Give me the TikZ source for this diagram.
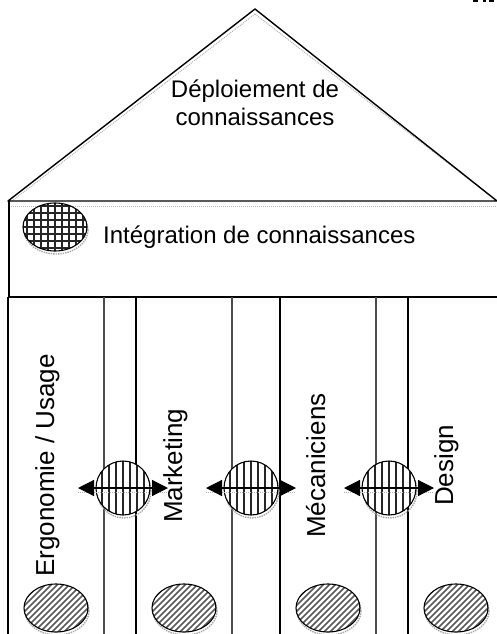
\documentclass[tikz,border=0pt]{standalone}
\usepackage{fontspec}
\setmainfont{Liberation Sans}
\tikzset{
  x=1pt,y=-1pt,
  wall/.style={draw=black,line width=1.4pt},
  thin wall/.style={draw=black!70,line width=1.2pt},
  shadowline/.style={draw=black!30,line width=1pt,densely dotted},
  shadowblob/.style={ellipse,draw=black!35,line width=1.4pt,densely dotted,inner sep=0pt},
  blob/.style={ellipse,draw=black,line width=1.1pt,fill=white,inner sep=0pt,minimum width=64pt,minimum height=48pt},
  ball/.style={circle,draw=black,line width=1.1pt,fill=white,inner sep=0pt,minimum size=54pt},
  hatchline/.style={line width=1.3pt,black!85},
  diaghatch/.style={blob,path picture={
    \foreach \k in {-90,-84,...,90}
      \draw[line width=1.5pt,black!65] ([xshift=\k pt,yshift=-50pt]path picture bounding box.center) -- ++(100pt,100pt);}},
  gridhatch/.style={blob,path picture={
    \foreach \k in {-35,-28,...,35}{
      \draw[hatchline] ([xshift=\k pt,yshift=-30pt]path picture bounding box.center) -- ++(0,60pt);
      \draw[hatchline] ([xshift=-40pt,yshift=\k pt]path picture bounding box.center) -- ++(80pt,0);}}},
  stripehatch/.style={ball,path picture={
    \foreach \k in {-28,-21,...,28}
      \draw[hatchline] ([xshift=\k pt,yshift=-30pt]path picture bounding box.center) -- ++(0,60pt);}},
  flow/.style={draw=black,line width=1.2pt,{Triangle[length=16pt,width=16pt]}-{Triangle[length=16pt,width=16pt]}},
  label/.style={inner sep=0pt,font=\fontsize{24}{24}\selectfont},
  vlabel/.style={inner sep=0pt,font=\fontsize{26}{26}\selectfont,rotate=90,anchor=base west},
}
\usetikzlibrary{shapes.geometric,arrows.meta}
\begin{document}
\begin{tikzpicture}
\useasboundingbox (0,0) rectangle (497,634);
\clip (0,0) rectangle (497,634);
% feet of a line of text cut off by the top edge
\foreach \ax/\bx in {473/478,483/486,489/494}
  \fill[black] (\ax,0) rectangle (\bx,2.5);
% roof
\coordinate (apex) at (255,9);
\coordinate (roofL) at (8,201);
\coordinate (roofR) at (497,201);
\draw[shadowline] (255,14) -- (12,201);
\draw[shadowline] (255,14) -- (497,201);
\draw[wall,line join=round] (roofL) -- (apex) -- (roofR) -- cycle;
\draw[shadowline] (9,206) -- (497,206);
% integration band
\draw[wall] (9,201) -- (9,297);
% pillars
\draw[wall] (8,297) -- (497,297);
\foreach \px in {8,136,280,408}
  \draw[wall] (\px,297) -- (\px,634);
\foreach \px in {104,232,376}
  \draw[thin wall] (\px,297) -- (\px,634);
% texts
\node[label,align=center,anchor=base] (roofText) at (255,125) {Déploiement de\\[4pt]connaissances};
\node[label,anchor=base west] (bandText) at (103,243) {Intégration de connaissances};
\node[vlabel] (ergo) at (54,577) {Ergonomie / Usage};
\node[vlabel] (mark) at (182,523) {Marketing};
\node[vlabel] (meca) at (325,538) {Mécaniciens};
\node[vlabel] (desi) at (453,506) {Design};
% blobs
\foreach \n/\cx in {bA/56,bB/184,bC/328,bD/456}{
  \node[shadowblob,minimum width=64pt,minimum height=48pt] at (\cx+1,608+3) {};
  \node[diaghatch] (\n) at (\cx,608) {};
}
\node[shadowblob,minimum width=64pt,minimum height=48pt] at (56,230) {};
\node[gridhatch] (gridBlob) at (55,227) {};
% balls and arrows
\foreach \n/\cx in {cA/123,cB/251,cC/389}{
  \node[shadowblob,minimum width=54pt,minimum height=54pt] at (\cx+1,491) {};
  \node[stripehatch] (\n) at (\cx,488) {};
  \coordinate (\n L) at (\cx-45,488);
  \coordinate (\n R) at (\cx+45,488);
  \draw[draw=black!30,line width=1pt,densely dotted] (\cx-45,492) -- (\cx+45,492);
  \draw[flow] (\n L) -- (\n R);
}
\end{tikzpicture}
\end{document}
